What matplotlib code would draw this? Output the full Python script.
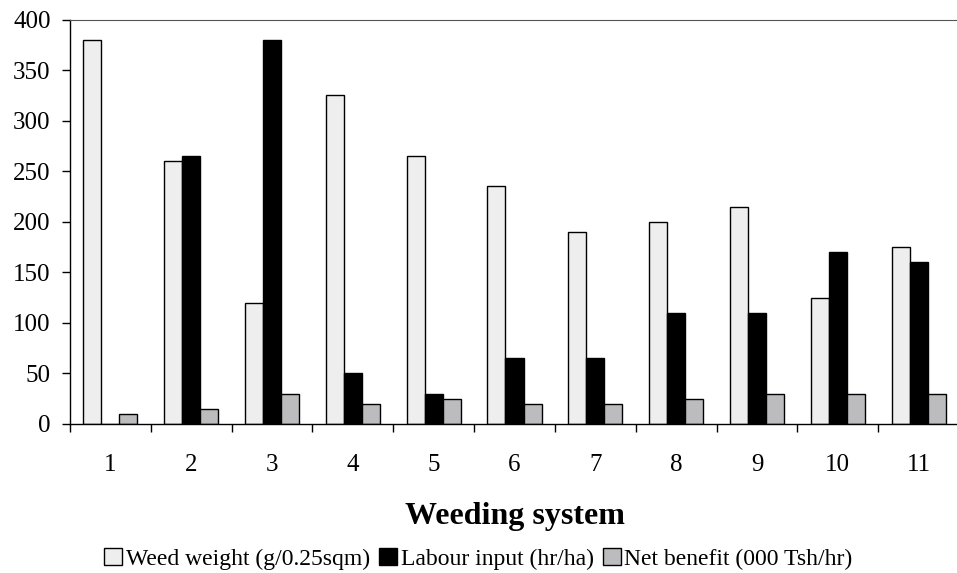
import matplotlib.pyplot as plt
import numpy as np
from matplotlib.ticker import FixedLocator

plt.rcParams['font.family'] = ['Liberation Serif', 'DejaVu Serif']

# data
systems = ['1', '2', '3', '4', '5', '6', '7', '8', '9', '10', '11']
weed_weight = [380, 260, 120, 325, 265, 235, 190, 200, 215, 125, 175]
labour_input = [0, 265, 380, 50, 30, 65, 65, 110, 110, 170, 160]
net_benefit = [10, 15, 30, 20, 25, 20, 20, 25, 30, 30, 30]

labels = ['Weed weight (g/0.25sqm)', 'Labour input (hr/ha)', 'Net benefit (000 Tsh/hr)']
colors = ['#eeeeee', '#000000', '#bcbbbe']

fig = plt.figure(figsize=(9.57, 5.73), dpi=100)
ax = fig.add_axes([70 / 957, 1 - 424 / 573, 889 / 957, (424 - 19.5) / 573])

x = np.arange(len(systems))
w = 0.223
for i, (vals, lab, col) in enumerate(zip([weed_weight, labour_input, net_benefit], labels, colors)):
    ax.bar(x + (i - 1) * w, vals, width=w, color=col, edgecolor='black',
           linewidth=1.0, label=lab)

ax.set_xlim(-0.5, len(systems) - 0.5)
ax.set_ylim(0, 400)
ax.set_yticks(np.arange(0, 401, 50))
ax.set_xticks(x)
ax.set_xticklabels(systems)
ax.xaxis.set_minor_locator(FixedLocator(np.arange(-0.5, len(systems), 1.0)))
ax.tick_params(axis='x', which='major', length=0, pad=21.5, labelsize=18)
ax.tick_params(axis='x', which='minor', length=6, direction='out', width=1)
ax.tick_params(axis='y', length=6, direction='out', width=1, labelsize=18, pad=8)

ax.spines['right'].set_visible(False)
ax.spines['top'].set_color('#555555')
for s in ['left', 'bottom']:
    ax.spines[s].set_linewidth(1)

ax.set_xlabel('Weeding system', fontsize=23, fontweight='bold', labelpad=19)

fig.legend(loc='center', bbox_to_anchor=(0.5, 1 - 559 / 573), ncol=3, frameon=False,
           fontsize=17, handlelength=0.75, handleheight=0.75, handletextpad=0.15,
           columnspacing=0.4, borderpad=0, borderaxespad=0)

fig.savefig('out.png', dpi=100)
